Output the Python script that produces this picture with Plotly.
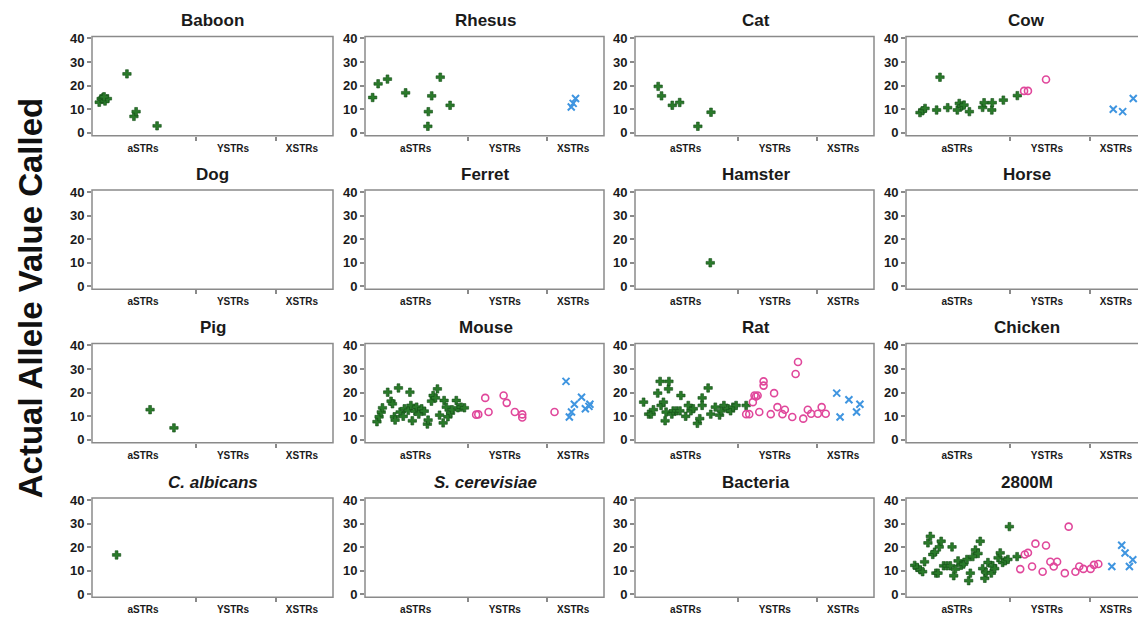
import plotly.graph_objects as go

W, H = 1138, 622

# ---------------- data ----------------
panel_titles = ["Baboon", "Rhesus", "Cat", "Cow",
                "Dog", "Ferret", "Hamster", "Horse",
                "Pig", "Mouse", "Rat", "Chicken",
                "<i>C. albicans</i>", "<i>S. cerevisiae</i>", "Bacteria", "2800M"]

category_labels = ["aSTRs", "YSTRs", "XSTRs"]
category_centers = [21.2, 58.5, 87.1]
category_bounds = [43.2, 76.3]
y_ticks = [0, 10, 20, 30, 40]

baboon_a_pos = [3.0, 3.8, 4.6, 5.4, 6.4, 5.0, 14.5, 17.4, 18.3, 27.0]
baboon_a_val = [13.0, 14.5, 15.0, 13.5, 14.5, 15.3, 25.0, 7.0, 9.0, 3.0]

rhesus_a_pos = [3.2, 5.5, 9.4, 17.0, 26.3, 26.5, 27.9, 31.5, 35.6]
rhesus_a_val = [15.0, 20.8, 22.8, 17.0, 2.8, 9.0, 15.7, 23.6, 11.7]
rhesus_x_pos = [86.3, 87.1, 88.1]
rhesus_x_val = [11.0, 12.5, 14.6]

cat_a_pos = [9.7, 11.1, 15.6, 18.7, 26.3, 31.8]
cat_a_val = [19.7, 15.7, 11.7, 12.9, 2.8, 8.75]

cow_a_pos = [5.8, 6.9, 7.9, 12.7, 14.1, 17.3, 21.3, 22.1, 23.1, 24.1, 26.3,
             31.8, 32.4, 35.6, 35.8, 40.4, 46.2]
cow_a_val = [8.6, 9.4, 10.4, 9.7, 23.6, 10.7, 9.7, 12.5, 11.4, 11.8, 9.0,
             10.8, 12.8, 9.7, 12.8, 13.9, 15.8]
cow_y_pos = [49.0, 50.6, 58.1]
cow_y_val = [17.8, 17.8, 22.6]
cow_x_pos = [86.0, 89.9, 94.3]
cow_x_val = [10.0, 9.0, 14.6]

hamster_a_pos = [31.5]
hamster_a_val = [10.0]

pig_a_pos = [24.1, 34.0]
pig_a_val = [12.8, 5.1]

mouse_a_pos = [5.0, 5.9, 6.8, 7.3, 9.5, 10.9, 11.5, 12.3, 12.6, 14.0, 14.7, 16.0,
               16.5, 18.1, 18.8, 19.2, 19.8, 20.9, 21.6, 22.5, 23.7, 24.8, 26.1,
               26.4, 27.8, 28.5, 29.5, 30.3, 31.2, 32.7, 33.1, 34.0, 34.7, 35.8,
               36.4, 38.2, 38.9, 40.2, 41.6]
mouse_a_val = [7.7, 9.8, 11.8, 13.6, 20.2, 16.4, 15.3, 9.8, 8.4, 22.0, 11.8, 10.0,
               13.2, 12.5, 20.2, 14.6, 8.1, 12.2, 13.9, 10.9, 13.2, 12.2, 6.7,
               8.4, 16.4, 18.8, 17.8, 21.6, 10.5, 7.2, 16.7, 13.9, 9.8, 11.4,
               12.8, 16.7, 13.6, 13.9, 13.6]
mouse_y_pos = [46.5, 47.4, 50.3, 51.7, 58.0, 59.3, 62.7, 65.8, 65.8, 79.3]
mouse_y_val = [10.7, 10.8, 17.8, 11.8, 18.8, 15.7, 11.8, 10.8, 9.5, 11.8]
mouse_x_pos = [84.1, 85.5, 86.4, 87.6, 90.6, 92.2, 93.7, 94.1]
mouse_x_val = [24.8, 9.7, 11.8, 15.1, 18.1, 13.2, 14.2, 15.1]

rat_a_pos = [3.6, 5.7, 6.8, 7.7, 9.5, 10.5, 10.9, 11.9, 12.6, 13.0, 14.0, 14.2,
             15.4, 16.0, 17.4, 18.8, 19.2, 21.2, 22.3, 23.4, 24.4, 26.1, 27.1,
             28.1, 28.1, 30.6, 31.7, 33.6, 35.4, 36.1, 37.2, 38.9, 40.0, 41.0,
             42.3, 46.5]
rat_a_val = [16.0, 10.9, 10.9, 12.8, 19.8, 24.8, 14.6, 16.0, 8.1, 11.8, 21.6, 24.8,
             10.9, 12.3, 12.3, 12.3, 18.8, 10.0, 14.6, 12.3, 13.2, 7.0, 9.0,
             17.8, 14.6, 22.0, 10.9, 13.9, 10.5, 12.3, 14.6, 13.2, 12.3, 13.9,
             14.6, 14.6]
rat_y_pos = [46.5, 47.8, 49.3, 50.0, 50.6, 51.3, 52.0, 53.8, 53.8, 56.8, 58.2, 59.6,
             61.7, 62.7, 65.8, 67.2, 68.2, 70.4, 72.3, 73.7, 76.5, 78.1, 79.8]
rat_y_val = [10.9, 10.9, 16.0, 18.8, 18.4, 18.8, 11.8, 24.8, 23.0, 10.9, 19.8, 13.9,
             10.9, 12.8, 9.7, 27.9, 33.0, 9.0, 12.8, 11.1, 11.1, 13.9, 11.1]
rat_x_pos = [84.4, 85.8, 89.5, 92.7, 94.1]
rat_x_val = [19.8, 9.7, 17.0, 11.8, 15.1]

calbicans_a_pos = [10.2]
calbicans_a_val = [16.7]

m2800_a_pos = [3.6, 4.6, 5.9, 6.9, 7.7, 9.1, 10.1, 11.1, 11.9, 12.4, 13.3, 13.8,
               14.6, 15.6, 17.0, 18.4, 19.1, 19.8, 20.5, 21.6, 22.9, 23.9, 25.3,
               26.0, 26.7, 27.7, 28.8, 29.9, 30.8, 31.8, 32.7, 33.2, 34.0, 35.4,
               36.0, 36.8, 38.2, 39.1, 40.1, 41.2, 42.3, 42.9, 46.1]
m2800_a_val = [12.3, 11.4, 10.4, 9.6, 13.8, 21.8, 24.6, 16.9, 17.9, 9.0, 9.0, 20.1,
               22.5, 12.1, 12.1, 12.1, 20.1, 7.9, 10.7, 14.2, 12.3, 12.8, 14.8,
               5.8, 9.0, 16.0, 18.8, 17.3, 22.5, 10.9, 6.8, 9.3, 13.5, 9.0,
               12.1, 10.9, 15.5, 17.6, 13.5, 14.2, 14.8, 28.7, 16.0]
m2800_y_pos = [47.4, 49.3, 50.6, 52.3, 53.7, 56.7, 58.1, 59.9, 61.3, 62.7, 65.9,
               67.5, 70.3, 71.9, 73.6, 76.6, 78.0, 79.8]
m2800_y_val = [10.7, 16.9, 17.6, 11.8, 21.5, 9.6, 20.7, 13.8, 11.8, 13.8, 9.0,
               28.7, 9.6, 11.8, 10.8, 10.8, 12.5, 12.9]
m2800_x_pos = [85.4, 89.5, 90.9, 92.7, 94.1]
m2800_x_val = [11.8, 20.8, 17.5, 11.8, 14.7]

# panel index -> list of (kind, positions, values)
panel_series = {
    0: [("a", baboon_a_pos, baboon_a_val)],
    1: [("a", rhesus_a_pos, rhesus_a_val), ("x", rhesus_x_pos, rhesus_x_val)],
    2: [("a", cat_a_pos, cat_a_val)],
    3: [("a", cow_a_pos, cow_a_val), ("y", cow_y_pos, cow_y_val), ("x", cow_x_pos, cow_x_val)],
    6: [("a", hamster_a_pos, hamster_a_val)],
    8: [("a", pig_a_pos, pig_a_val)],
    9: [("a", mouse_a_pos, mouse_a_val), ("y", mouse_y_pos, mouse_y_val), ("x", mouse_x_pos, mouse_x_val)],
    10: [("a", rat_a_pos, rat_a_val), ("y", rat_y_pos, rat_y_val), ("x", rat_x_pos, rat_x_val)],
    12: [("a", calbicans_a_pos, calbicans_a_val)],
    15: [("a", m2800_a_pos, m2800_a_val), ("y", m2800_y_pos, m2800_y_val), ("x", m2800_x_pos, m2800_x_val)],
}

# ---------------- styling ----------------
FONT = "Liberation Sans, Arial, sans-serif"
BOX = "#8a8a8a"
marker_styles = {
    "a": dict(symbol="cross", size=7, color="#2a7a2a", line=dict(color="#124d16", width=0.6)),
    "y": dict(symbol="circle-open", size=7, color="#e0479b", line=dict(color="#e0479b", width=1.6)),
    "x": dict(symbol="x-thin-open", size=7, color="#3f95e0", line=dict(color="#3f95e0", width=2)),
}

col_left = [92, 365, 635, 906]
col_right = [333, 604, 874, 1138]
row_top = [32, 188, 344, 501]
row_h = 101
full_w = 241

fig = go.Figure()
layout = dict(width=W, height=H, margin=dict(l=0, r=0, t=0, b=0),
              paper_bgcolor="white", plot_bgcolor="white", showlegend=False,
              font=dict(family=FONT, color="#1a1a1a"))
shapes = []
annotations = []

for i, title in enumerate(panel_titles):
    r, c = divmod(i, 4)
    n = i + 1
    xa = "xaxis" if n == 1 else f"xaxis{n}"
    ya = "yaxis" if n == 1 else f"yaxis{n}"
    xr = "x" if n == 1 else f"x{n}"
    yr = "y" if n == 1 else f"y{n}"
    x0p, x1p = col_left[c], col_right[c]
    vis_frac = (x1p - x0p) / full_w if c == 3 else 1.0
    layout[xa] = dict(domain=[x0p / W, x1p / W], anchor=yr,
                      range=[0, 100 * min(vis_frac, 1.0)],
                      tickmode="array", tickvals=category_centers, ticktext=category_labels,
                      ticks="outside", ticklen=3, tickcolor="rgba(0,0,0,0)",
                      tickfont=dict(family=FONT, size=10, color="#1a1a1a", weight="bold"),
                      showgrid=False, zeroline=False, showline=False,
                      minor=dict(tickmode="array", tickvals=category_bounds, ticks="outside",
                                 ticklen=4, tickcolor=BOX, tickwidth=1.5, showgrid=False),
                      fixedrange=True)
    layout[ya] = dict(domain=[1 - (row_top[r] + row_h) / H, 1 - row_top[r] / H], anchor=xr,
                      range=[-1.25, 40.85], tickmode="array", tickvals=y_ticks,
                      ticks="outside", ticklen=4, tickcolor=BOX, tickwidth=1.5,
                      tickfont=dict(family=FONT, size=13, color="#1a1a1a", weight="bold"),
                      showgrid=False, zeroline=False, showline=False, fixedrange=True)
    x1_dom = (full_w / (x1p - x0p)) if c == 3 else 1
    shapes.append(dict(type="rect", xref=f"{xr} domain", yref=f"{yr} domain",
                       x0=0, x1=x1_dom, y0=0, y1=1, line=dict(color=BOX, width=1.5),
                       fillcolor="rgba(0,0,0,0)", layer="above"))
    annotations.append(dict(text=f"<b>{title}</b>", xref="paper", yref="paper",
                            x=(x0p + (x0p + full_w)) / 2 / W, y=1 - row_top[r] / H,
                            xanchor="center", yanchor="bottom", yshift=4, showarrow=False,
                            font=dict(family=FONT, size=17, color="#1a1a1a")))
    series = panel_series.get(i, [])
    if not series:
        # empty panel: an empty trace so that the axes are still drawn
        fig.add_trace(go.Scatter(x=[], y=[], mode="markers", xaxis=xr, yaxis=yr,
                                 hoverinfo="skip"))
    for kind, pos, val in series:
        fig.add_trace(go.Scatter(x=pos, y=val, mode="markers", xaxis=xr, yaxis=yr,
                                 marker=marker_styles[kind], hoverinfo="skip",
                                 cliponaxis=False))

annotations.append(dict(text="<b>Actual Allele Value Called</b>", xref="paper", yref="paper",
                        x=30 / W, y=1 - 298 / H, xanchor="center", yanchor="middle",
                        textangle=-90, showarrow=False,
                        font=dict(family=FONT, size=33, color="#111111")))

layout["shapes"] = shapes
layout["annotations"] = annotations
fig.update_layout(**layout)
fig.write_html("out.html")
